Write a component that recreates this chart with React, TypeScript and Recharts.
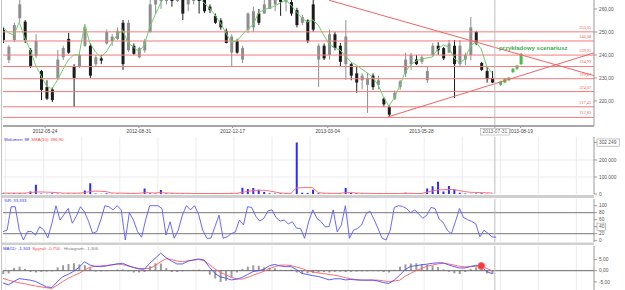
import React from 'react';
import {
  ComposedChart,
  Bar,
  Line,
  XAxis,
  YAxis,
  ReferenceLine,
  ReferenceDot,
  CartesianGrid,
} from 'recharts';

const FONT = '"Liberation Sans", Arial, sans-serif';
const W = 625;
const DAYS = 435; // trading days shown on the x axis
const CURSOR_DAY = 362; // 2013-07-31
const PRICE_MIN = 209.1;
const PRICE_MAX = 263.9;

// x axis: trading-day index of each date label
const tickDays = [31, 100, 169, 239, 308, 381, 362];
const tickLabels = ['2012-05-24', '2012-08-31', '2012-12-17', '2013-03-04', '2013-05-28', '2013-08-19', '2013-07-31'];
const gridDays = [2, 30, 58, 86, 114, 142, 170, 198, 226, 254, 282, 310, 338, 366, 394, 422];

const priceTicks = [220, 230, 240, 250, 260];
const levels = [250.05, 246.08, 239.95, 234.99, 229.67, 224.07, 217.45, 212.83];

// [open, high, low, close], one bar per 4 trading days
const candles = [
  [250.9, 252.2, 245.2, 246.5], [237.8, 244.3, 236.5, 243.5], [246.5, 254, 245.6, 253], [256, 263.9, 254.3, 262],
  [254.5, 255.2, 245.2, 246.5], [242.2, 243, 234.3, 235], [239.5, 249, 238.7, 246], [233, 233.5, 220.4, 224.8],
  [226, 229, 220.4, 221], [225, 226, 219.5, 220.4], [230, 242.2, 229.1, 238], [239, 244, 237.8, 243],
  [247, 249.6, 240.5, 241], [235, 236, 217.4, 230], [234.8, 241, 234.3, 240], [244, 253.5, 243.5, 252],
  [244, 245.2, 230, 231], [236, 240, 235, 239], [238.5, 240, 236, 237.5], [245, 251, 244.5, 250],
  [246, 249, 244, 248], [247, 252, 246.5, 250.5], [254, 255.2, 233.5, 236], [242, 255.2, 241.3, 254],
  [244, 245, 240, 240.5], [239, 243.5, 238.5, 243], [242, 247, 241, 246], [250, 264, 249.6, 262],
  [262, 270, 258, 268], [266, 274, 260, 272], [270, 277, 262, 275], [274, 277, 261, 271],
  [272, 279, 263, 276], [268, 270, 255.2, 258], [262, 270, 259, 268], [266, 272, 262, 270],
  [268, 270, 258, 264], [264.5, 266, 258.2, 259], [261, 262, 258.2, 259.5], [257, 258, 253.5, 254],
  [255, 256, 251, 252], [250.5, 251.5, 245, 245.2], [241, 249, 234.8, 248], [246, 247, 240.5, 241],
  [238, 244, 236.5, 243], [251, 258.5, 249.6, 258], [252, 261, 250, 259], [258, 260, 253, 254],
  [258, 264, 258, 262], [260, 266, 260, 264], [262, 268, 259, 266], [266, 268, 257, 263],
  [263, 268, 259, 266], [263, 264, 257, 258], [259.5, 260.5, 252, 253], [254, 257.5, 253, 256.5],
  [255, 255.5, 245.2, 246], [262, 264, 250, 251], [238, 245, 226, 244], [244, 245, 237.8, 238.5],
  [240, 251, 238, 249], [249, 250, 242, 243], [244, 245.2, 234.8, 237], [236, 255.2, 229.1, 248],
  [236, 236.5, 229, 231], [232, 234.8, 223.5, 228], [229, 232, 225, 231], [227, 232.2, 214.8, 230],
  [231, 232, 224.8, 226], [227, 231, 225, 229], [221, 221.5, 217.5, 218.5], [217.5, 218, 213, 214],
  [221, 224.5, 220.4, 223.5], [226, 229.1, 224.8, 228.5], [232, 240.9, 230.4, 238], [236, 240.9, 233.5, 240],
  [238, 240, 235.6, 236], [237, 240, 236, 239], [229, 234.8, 227.8, 233], [240, 245.2, 239.1, 244],
  [244, 245.5, 240, 242], [243, 243.5, 237.8, 238.5], [241, 246.5, 240.9, 245], [244, 246.5, 221.3, 236],
  [236, 246.5, 234.8, 244], [238, 241, 235.6, 240], [240, 256.5, 237.8, 252], [250, 250.5, 244.3, 245],
  [236.5, 237, 233, 233.5], [233, 234.8, 228, 229.5], [230, 233, 227.8, 228],
];

// green "przykładowy scenariusz" bars after the last session
const scenario = [
  [227, 228.8, 226.5, 228.5], [228, 230, 227.8, 229.5], [229, 230.4, 228.7, 230.2],
  [232.5, 234.3, 232.2, 234], [234, 235.6, 233.5, 235.4], [236, 240.9, 235.6, 240.5],
];

const movingAvg = [
  252.2, 249.6, 248.7, 254.3, 247.4, 242.2, 235.6, 230.9, 226.5, 225.2,
  229.1, 233.5, 237.8, 240.0, 240.0, 253.0, 245.2, 241.3, 239.1, 241.3,
  245.2, 248.7, 250.9, 245.2, 243.5, 241.3, 244.3, 252.2, 257.4, 262.6,
  266.1, 268.2, 269.1, 268.2, 267.4, 266.1, 265.2, 262.6, 260.4, 257.4,
  253.9, 249.6, 245.6, 246.1, 248.7, 251.3, 253.0, 258.2, 259.6, 260.4,
  261.3, 262.6, 263.9, 261.7, 258.7, 256.1, 254.3, 255.2, 253.0, 248.7,
  244.8, 243.0, 242.2, 239.6, 236.9, 235.6, 233.9, 232.2, 230.4, 227.0,
  221.7, 217.8, 221.3, 226.5, 232.6, 235.6, 237.4, 238.2, 238.7, 239.1,
  242.6, 244.3, 243.5, 238.7, 236.5, 238.2, 243.9, 245.6, 242.6, 235.2, 232.2,
];

// volume in thousands
const volumeK = [
  5, 3, 4, 5, 3, 15, 55, 3, 2, 4, 3, 2, 3, 3, 2, 20, 63, 3, 2, 4,
  2, 3, 2, 3, 3, 2, 33, 5, 3, 23, 4, 3, 3, 4, 2, 3, 2, 3, 2, 3,
  2, 3, 4, 3, 37, 30, 35, 25, 12, 4, 3, 4, 3, 2, 302.249, 8, 6, 25, 4, 3,
  3, 2, 3, 35, 6, 4, 3, 2, 3, 2, 2, 2, 3, 2, 8, 3, 2, 3, 33, 45,
  72, 15, 47, 30, 8, 3, 2, 3, 5, 2, 2,
];
const volumeSmaK = [
  5, 5, 5, 5, 5, 8, 12, 12, 11, 10, 8, 5, 5, 5, 5, 8, 15, 17, 16, 14,
  6, 5, 5, 4, 4, 4, 8, 7, 6, 8, 6, 5, 4, 4, 4, 3, 3, 3, 3, 3,
  3, 3, 4, 4, 10, 15, 20, 22, 22, 18, 12, 6, 4, 4, 36, 37, 38, 37, 8, 5,
  4, 4, 4, 8, 8, 6, 4, 4, 3, 3, 3, 3, 3, 3, 4, 4, 3, 3, 10, 18,
  24, 25, 26, 26, 20, 14, 10, 9, 8, 7, 6,
];

// Williams %R, one value per 3 trading days
const williamsR = [
  26, 30, 97, 97, 30, 2, 26, 26, 16, 40, 31, 8, 50, 100, 59, 75, 92, 50, 70, 97,
  82, 55, 21, 26, 60, 100, 97, 88, 100, 88, 2, 80, 59, 26, 10, 60, 100, 100, 100, 92,
  16, 54, 7, 30, 73, 100, 88, 100, 75, 30, 7, 7, 40, 73, 7, 11, 20, 25, 59, 45,
  97, 95, 70, 56, 64, 85, 88, 66, 56, 59, 48, 54, 36, 35, 7, 55, 88, 64, 55, 40,
  40, 88, 25, 45, 100, 7, 30, 35, 45, 75, 85, 62, 35, 7, 2, 30, 95, 100, 98, 92,
  80, 88, 76, 64, 73, 95, 92, 62, 52, 30, 20, 54, 92, 66, 60, 55, 48, 11, 30, 21, 11, 10,
];

const macd = [
  -5.5, -6.3, -4.8, -3.5, -3.9, -4.2, -4.8, -6.0, -7.2, -7.5,
  -4.9, -2.7, -1.6, -0.3, 1.5, 4.0, 2.5, 1.9, 1.8, 2.1,
  2.6, 3.0, 3.3, 2.3, 1.4, 0.8, 0.6, 3.3, 5.5, 7.8,
  5.8, 4.3, 3.0, 3.0, 4.2, 4.8, 5.2, 4.8, 1.5, -1.2,
  -2.8, -3.3, -4.1, -3.8, -3.0, -1.7, -0.4, 0.0, 0.6, 2.2,
  2.8, 2.1, 1.8, 1.8, 0.5, -1.2, -1.7, -2.2, -2.6, -3.3,
  -4.1, -3.6, -3.6, -4.1, -3.9, -4.1, -4.2, -4.2, -4.2, -4.6,
  -5.3, -5.7, -4.2, -2.0, 0.5, 1.9, 2.2, 2.6, 2.9, 3.3,
  3.5, 3.5, 2.6, 1.8, 1.2, 1.2, 1.9, 2.4, 2.1, -0.4, -1.3,
];
const signal = [
  -3.4, -4.2, -4.9, -5.4, -5.8, -6.4, -6.8, -7.2, -7.6, -7.9,
  -6.4, -4.8, -3.4, -2.2, -1.2, 0.3, 1.5, 2.0, 2.1, 2.3,
  2.6, 3.0, 2.7, 2.1, 1.5, 1.0, 1.0, 1.0, 2.3, 4.0,
  5.3, 5.0, 4.3, 4.0, 4.4, 4.7, 5.0, 4.4, 2.8, 0.8,
  -0.8, -1.8, -3.0, -3.6, -3.8, -3.0, -2.0, -1.2, -0.3, 1.0,
  1.8, 2.5, 2.5, 2.3, 1.6, 1.0, 0.0, -0.5, -1.0, -1.3,
  -1.7, -2.0, -2.5, -3.1, -3.6, -4.0, -4.2, -4.2, -4.2, -4.2,
  -4.5, -4.9, -4.6, -4.2, -2.5, -1.2, 0.0, 1.0, 2.0, 2.5,
  3.0, 3.3, 3.0, 2.5, 2.0, 1.7, 1.8, 1.9, 2.1, 1.0, 0.0,
];
const histogram = [
  -1.5, -1.2, 1.2, 1.8, 0.8, -0.6, -0.8, -0.5, -0.4, -0.3,
  1.5, 2.4, 3.0, 3.3, 2.8, 2.5, 1.2, -0.4, -0.3, -0.2,
  0.3, 0.5, 0.6, -0.4, -0.8, -0.8, -0.6, 2.0, 3.3, 3.2,
  1.2, -0.6, -0.6, -0.3, 0.3, 0.4, 0.5, 0.3, -1.8, -3.5,
  -5.0, -4.5, -3.0, -0.8, 0.8, 1.8, 2.4, 2.2, 1.5, 1.2,
  1.0, 0.4, 0.3, 0.5, -0.8, -1.2, -1.2, -1.0, -0.8, -0.6,
  -0.8, -0.5, -0.4, -0.6, -0.5, -0.4, -0.3, -0.3, -0.2, -0.3,
  -0.6, -0.8, 0.4, 1.8, 2.8, 3.2, 3.3, 3.0, 2.6, 2.2,
  1.6, 0.6, -0.5, -1.2, -1.5, -0.6, 0.8, 1.4, 1.2, -1.2, -1.5,
];
const MACD_DOT_INDEX = 88;

const mainData = [
  ...candles.map((c, i) => ({ t: i * 4, hl: [c[2], c[1]], ohlc: c, ma: movingAvg[i] })),
  ...scenario.map((c, i) => ({ t: 366 + i * 3, hl: [c[2], c[1]], ohlc: c, proj: true })),
];
const volData = volumeK.map((v, i) => ({ t: i * 4, v: v * 1000, sma: volumeSmaK[i] * 1000 }));
const wrData = williamsR.map((v, k) => ({ t: k * 3, v }));
const macdData = macd.map((m, i) => ({ t: i * 4, m, s: signal[i], h: histogram[i] }));

const fmt2 = (v: number) => v.toFixed(2).replace('.', ',');
const fmtInt = (v: number) => String(Math.round(v)).replace(/\B(?=(\d{3})+(?!\d))/g, ' ');
const dateLabel = (v: number) => tickLabels[tickDays.indexOf(v)] ?? '';

function RightTick(props: any) {
  const { x, y, payload, fmt, boxed } = props;
  const label = fmt(payload.value);
  const w = label.length * 2.75 + 3;
  return (
    <g>
      {boxed === payload.value && (
        <rect x={x - 2} y={y - 3.6} width={w} height={7.2} fill="#fff" stroke="#9a9a9a" strokeWidth={0.6} />
      )}
      <text x={x} y={y} dy={1.7} fontSize={4.8} fill="#555" fontFamily={FONT}>
        {label}
      </text>
    </g>
  );
}

function DateTick(props: any) {
  const { x, y, payload } = props;
  const boxed = payload.value === CURSOR_DAY;
  return (
    <g>
      {boxed && <rect x={x - 14.5} y={y - 0.5} width={29} height={6.5} fill="#fff" stroke="#aaa" strokeWidth={0.6} />}
      <text x={x} y={y} dy={4.3} textAnchor="middle" fontSize={4.8} fill={boxed ? '#666' : '#444'} fontFamily={FONT}>
        {dateLabel(payload.value)}
      </text>
    </g>
  );
}

function Candle(props: any) {
  const { x, width, payload, background } = props;
  if (!payload || !payload.ohlc) return null;
  const [o, h, l, c] = payload.ohlc;
  const top = background ? background.y : 0;
  const hgt = background ? background.height : 126;
  const py = (v: number) => top + ((PRICE_MAX - v) / (PRICE_MAX - PRICE_MIN)) * hgt;
  const clamp = (v: number) => Math.max(top, Math.min(top + hgt, v));
  if (py(l) <= top) return null;
  const color = payload.proj ? '#4cbb4c' : c >= o ? '#8e8e8e' : '#1c1c1c';
  const cx = x + width / 2;
  const yO = clamp(py(o));
  const yC = clamp(py(c));
  return (
    <g>
      <line x1={cx} x2={cx} y1={clamp(py(h))} y2={clamp(py(l))} stroke={color} strokeWidth={1} />
      <rect x={x} y={Math.min(yO, yC)} width={width} height={Math.max(1, Math.abs(yO - yC))} fill={color} />
    </g>
  );
}

function ScenarioText(props: any) {
  const { cx, cy } = props;
  return (
    <text x={cx} y={cy} fontSize={6} fontWeight="bold" fill="#3fae55" fontFamily={FONT}>
      przykładowy scenariusz
    </text>
  );
}

const yAxisCommon = {
  orientation: 'right' as const,
  width: 31,
  tickSize: 3,
  tickMargin: 2,
  interval: 0 as const,
  axisLine: { stroke: '#999' },
  tickLine: { stroke: '#999' },
  allowDataOverflow: true,
};

export default function App() {
  return (
    <div style={{ position: 'absolute', left: 0, top: 0, width: W, height: 290, overflow: 'hidden', background: '#fff' }}>
      {/* price panel */}
      <div style={{ position: 'absolute', left: 0, top: 0 }}>
        <ComposedChart width={W} height={136} data={mainData} margin={{ top: 0, right: 0, bottom: 0, left: 3 }}>
          <XAxis
            type="number"
            dataKey="t"
            domain={[0, DAYS]}
            ticks={tickDays}
            interval={0}
            height={10}
            tickSize={2}
            tickMargin={1}
            axisLine={{ stroke: '#a8a8a8', strokeWidth: 2 }}
            tickLine={{ stroke: '#999' }}
            tick={<DateTick />}
            allowDataOverflow
          />
          <YAxis {...yAxisCommon} domain={[PRICE_MIN, PRICE_MAX]} ticks={priceTicks} tick={<RightTick fmt={fmt2} />} />
          {levels.map((lv) => (
            <ReferenceLine
              key={lv}
              y={lv}
              stroke="#f47a7a"
              strokeWidth={1}
              label={{ value: fmt2(lv), position: 'insideBottomRight', offset: 3, fontSize: 4.2, fill: '#ec5555' }}
            />
          ))}
          <ReferenceLine segment={[{ x: 240, y: 263.8 }, { x: DAYS, y: 231.0 }]} stroke="#f06464" strokeWidth={1} />
          <ReferenceLine segment={[{ x: 283, y: 213.0 }, { x: DAYS, y: 240.9 }]} stroke="#f06464" strokeWidth={1} />
          <ReferenceLine x={CURSOR_DAY} stroke="#bdbdbd" />
          <Bar dataKey="hl" barSize={3} shape={Candle} isAnimationActive={false} />
          <Line dataKey="ma" stroke="#6ccf6c" strokeWidth={1} dot={false} isAnimationActive={false} />
          <ReferenceDot x={365} y={242.2} r={0} shape={ScenarioText} />
        </ComposedChart>
      </div>

      {/* volume panel */}
      <div style={{ position: 'absolute', left: 0, top: 134 }}>
        <ComposedChart width={W} height={62} data={volData} margin={{ top: 3, right: 0, bottom: 2, left: 3 }}>
          <CartesianGrid stroke="#ececec" verticalValues={gridDays} horizontalValues={[100000, 200000]} />
          <XAxis type="number" dataKey="t" domain={[0, DAYS]} hide />
          <YAxis
            {...yAxisCommon}
            domain={[0, 335000]}
            ticks={[0, 100000, 200000, 302249]}
            tick={<RightTick fmt={fmtInt} boxed={302249} />}
          />
          <ReferenceLine x={CURSOR_DAY} stroke="#bdbdbd" />
          <Bar dataKey="v" fill="#2b2bff" barSize={2} isAnimationActive={false} />
          <Line dataKey="sma" stroke="#ff7070" strokeWidth={1} dot={false} isAnimationActive={false} />
        </ComposedChart>
      </div>

      {/* %R panel */}
      <div style={{ position: 'absolute', left: 0, top: 196 }}>
        <ComposedChart width={W} height={48} data={wrData} margin={{ top: 3, right: 0, bottom: 2, left: 3 }}>
          <CartesianGrid stroke="#ececec" verticalValues={gridDays} horizontal={false} />
          <XAxis type="number" dataKey="t" domain={[0, DAYS]} hide />
          <YAxis
            {...yAxisCommon}
            domain={[-3.7, 119.1]}
            ticks={[0, 20, 40, 60, 80, 100]}
            tick={<RightTick fmt={(v: number) => String(v)} boxed={40} />}
          />
          <ReferenceLine y={80} stroke="#777" />
          <ReferenceLine y={20} stroke="#777" />
          <ReferenceLine x={CURSOR_DAY} stroke="#bdbdbd" />
          <Line dataKey="v" stroke="#5858ff" strokeWidth={0.9} dot={false} isAnimationActive={false} />
        </ComposedChart>
      </div>

      {/* MACD panel */}
      <div style={{ position: 'absolute', left: 0, top: 244 }}>
        <ComposedChart width={W} height={46} data={macdData} margin={{ top: 2, right: 0, bottom: 0, left: 3 }}>
          <CartesianGrid stroke="#ececec" verticalValues={gridDays} horizontal={false} />
          <XAxis type="number" dataKey="t" domain={[0, DAYS]} hide />
          <YAxis {...yAxisCommon} domain={[-8.6, 11]} ticks={[-5, 0, 5]} tick={<RightTick fmt={fmt2} />} />
          <ReferenceLine y={0} stroke="#666" />
          <ReferenceLine x={CURSOR_DAY} stroke="#bdbdbd" />
          <Bar dataKey="h" fill="#9c9c9c" barSize={2} isAnimationActive={false} />
          <Line dataKey="s" stroke="#ff5d5d" strokeWidth={0.9} dot={false} isAnimationActive={false} />
          <Line dataKey="m" stroke="#4b4bff" strokeWidth={0.9} dot={false} isAnimationActive={false} />
          <ReferenceDot x={MACD_DOT_INDEX * 4} y={macd[MACD_DOT_INDEX]} r={3.5} fill="#f23a3a" stroke="#f77" strokeWidth={1} />
        </ComposedChart>
      </div>

      {/* panel separators and legends */}
      <svg width={W} height={290} style={{ position: 'absolute', left: 0, top: 0, pointerEvents: 'none' }}>
        <line x1={1.5} x2={1.5} y1={0} y2={290} stroke="#c4c4c4" strokeWidth={1} />
        <rect x={2} y={195} width={592} height={3} fill="#cfcfcf" />
        <rect x={2} y={242.5} width={592} height={2.5} fill="#cfcfcf" />
        <text x={4} y={140.5} fontSize={4.3} fontFamily={FONT}>
          <tspan fill="#3030ff">Wolumen: 88</tspan>
          <tspan fill="#ff4545" dx={2}>SMA(10): 386,80</tspan>
        </text>
        <text x={4} y={201.5} fontSize={4.3} fontFamily={FONT} fill="#3030ff">
          %R: 33,333
        </text>
        <text x={3} y={249.8} fontSize={4.3} fontFamily={FONT}>
          <tspan fill="#3030ff">MACD: -1,303</tspan>
          <tspan fill="#ff4545" dx={2}>Sygnał: -0,756</tspan>
          <tspan fill="#777" dx={4}>Histogram: -1,306</tspan>
        </text>
      </svg>
    </div>
  );
}
